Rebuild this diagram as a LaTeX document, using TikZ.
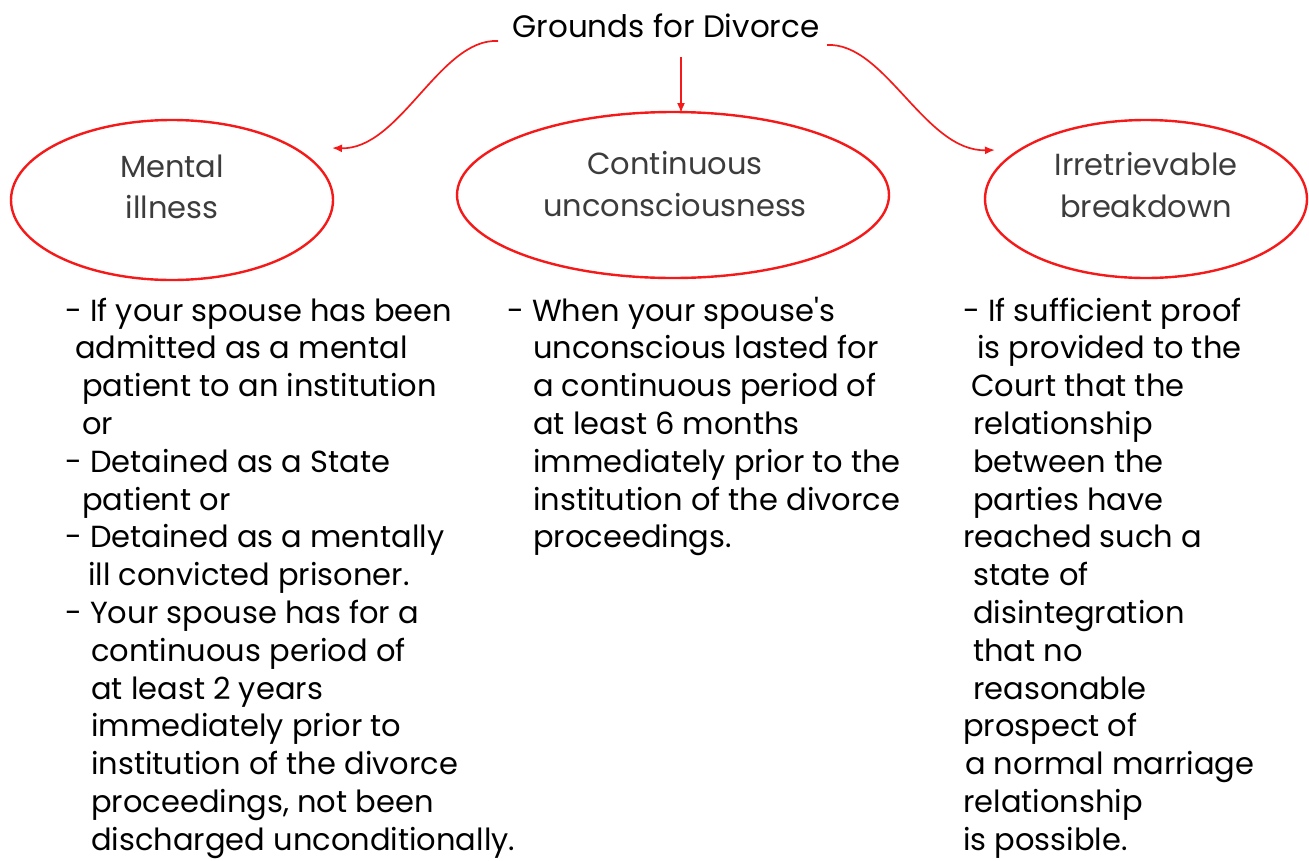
\documentclass[tikz,border=0pt]{standalone}
\usepackage{fontspec}
\setmainfont{Poppins}
\usetikzlibrary{shapes.geometric,arrows.meta}
\definecolor{lred}{RGB}{245,25,25}
\definecolor{etext}{RGB}{60,60,60}
\begin{document}
\begin{tikzpicture}[x=1pt,y=-1pt,
 oval/.style={draw=lred,line width=2.4pt,ellipse,inner sep=0pt},
 conn/.style={draw=lred,line width=1.7pt,-{Latex[length=10pt,width=8pt]}},
 body/.style={anchor=base west,inner sep=0pt,font=\fontsize{30.5}{36}\selectfont},
 otext/.style={anchor=base,inner sep=0pt,text=etext,font=\fontsize{30.5}{36}\selectfont},
 ttext/.style={anchor=base,inner sep=0pt,font=\fontsize{31}{36}\selectfont},
 ]
\useasboundingbox (0,0) rectangle (1309,860);
\node[ttext] (title) at (666,37) {Grounds for Divorce};
\node[oval,minimum width=322pt,minimum height=160pt] (mental) at (172,200) {};
\node[oval,minimum width=432pt,minimum height=166pt] (cont) at (673,195) {};
\node[oval,minimum width=322pt,minimum height=158pt] (irr) at (1146,199) {};
\node[otext] (m1) at (172,177) {Mental};
\node[otext] (m2) at (172,218) {illness};
\node[otext] (c1) at (675,174) {Continuous};
\node[otext] (c2) at (675,216) {unconsciousness};
\node[otext] (i1) at (1146,175) {Irretrievable};
\node[otext] (i2) at (1146,217) {breakdown};
\coordinate (tl) at (498,41);
\coordinate (tc) at (681,57);
\coordinate (tr) at (827,45);
\coordinate (el) at (332,148);
\coordinate (ec) at (681,113);
\coordinate (er) at (995,150);
\draw[conn] (tl) .. controls (440,38) and (400,150) .. (el);
\draw[conn] (tc) -- (ec);
\draw[conn] (tr) .. controls (885,42) and (925,152) .. (er);
\foreach \x/\t [count=\i] in {65/{- If your spouse has been},75/{admitted as a mental},82/{patient to an institution},82/{or},65/{- Detained as a State},82/{patient or},65/{- Detained as a mentally},88/{ill convicted prisoner.},65/{- Your spouse has for a},91/{continuous period of},91/{at least 2 years},91/{immediately prior to},91/{institution of the divorce},91/{proceedings, not been},91/{discharged unconditionally.}}
  \node[body] (L\i) at (\x,{321+37.8*(\i-1)}) {\t};
\foreach \x/\t [count=\i] in {507/{- When your spouse\textquotesingle s},533/{unconscious lasted for},533/{a continuous period of},533/{at least 6 months},533/{immediately prior to the},533/{institution of the divorce},533/{proceedings.}}
  \node[body] (M\i) at (\x,{321+37.8*(\i-1)}) {\t};
\foreach \x/\t [count=\i] in {963/{- If sufficient proof},977/{is provided to the},971/{Court that the},973/{relationship},973/{between the},973/{parties have},963/{reached such a},973/{state of},973/{disintegration},973/{that no},973/{reasonable},963/{prospect of},965/{a normal marriage},963/{relationship},963/{is possible.}}
  \node[body] (R\i) at (\x,{321+37.8*(\i-1)}) {\t};
\end{tikzpicture}
\end{document}
